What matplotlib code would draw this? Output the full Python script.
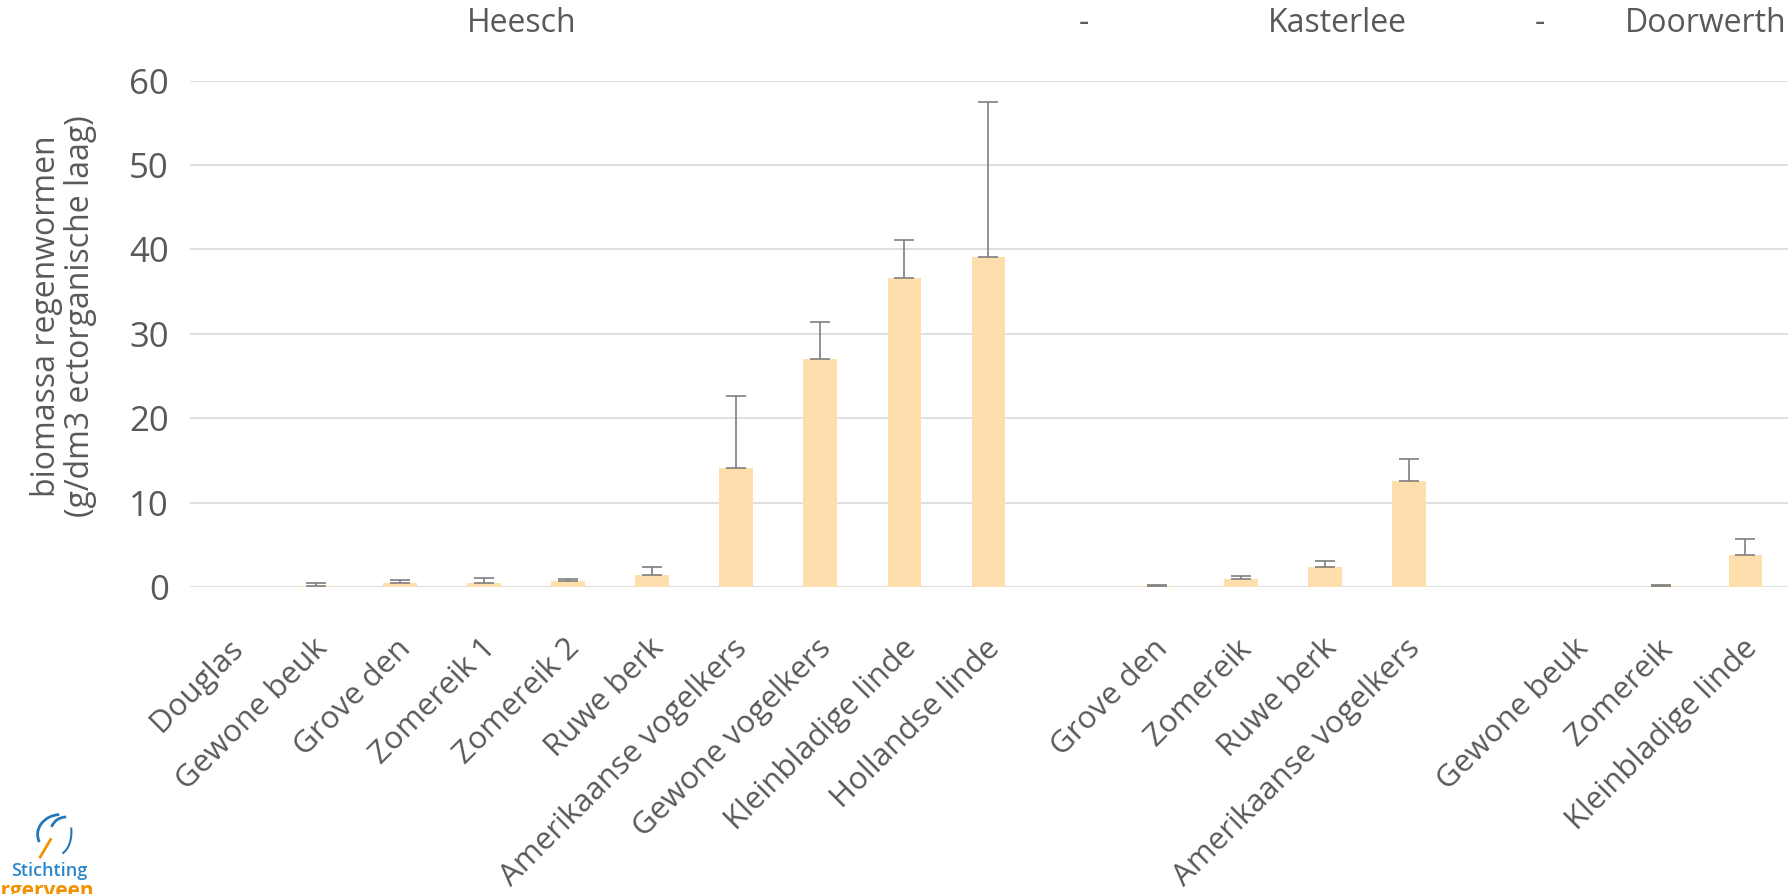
import numpy as np
import matplotlib.pyplot as plt
from matplotlib.transforms import ScaledTranslation
from matplotlib.patches import Arc

plt.rcParams['font.family'] = ['Open Sans', 'DejaVu Sans']

# categorieen (lege plek = scheiding tussen locaties)
labels = ['Douglas', 'Gewone beuk', 'Grove den', 'Zomereik 1', 'Zomereik 2',
          'Ruwe berk', 'Amerikaanse vogelkers', 'Gewone vogelkers',
          'Kleinbladige linde', 'Hollandse linde', '',
          'Grove den', 'Zomereik', 'Ruwe berk', 'Amerikaanse vogelkers', '',
          'Gewone beuk', 'Zomereik', 'Kleinbladige linde']
# gemiddelde biomassa (g/dm3 ectorganische laag)
values = [0.0, 0.16, 0.52, 0.48, 0.67, 1.45, 14.05, 27.05, 36.6, 39.1, np.nan,
          0.15, 0.95, 2.38, 12.6, np.nan,
          0.0, 0.15, 3.78]
# bovenkant foutbalk
err_top = [np.nan, 0.48, 0.79, 1.07, 0.95, 2.33, 22.65, 31.4, 41.1, 57.5, np.nan,
           0.2, 1.25, 3.13, 15.2, np.nan,
           np.nan, 0.2, 5.65]
headers = ['Heesch', '-', 'Kasterlee', '-', 'Doorwerth']
header_x = [0.292, 0.606, 0.748, 0.861, 0.954]

TXT = '#595959'
FS = 23

fig = plt.figure(figsize=(17.88, 8.94), dpi=100)
ax = fig.add_axes([189.5 / 1788, 1 - 587 / 894, 1598 / 1788, 506.3 / 894])

x = np.arange(len(labels))
v = np.array(values)
e = np.array(err_top) - v

ax.bar(x, np.nan_to_num(v), width=0.4, color='#FFDEAD', zorder=2)
m = ~np.isnan(e)
ax.errorbar(x[m], v[m], yerr=[np.zeros(m.sum()), e[m]], fmt='none',
            ecolor='#7f7f7f', elinewidth=1.2, capsize=7, capthick=1.2, zorder=3)

ax.set_xlim(-0.5, len(labels) - 0.5)
ax.set_ylim(0, 60)
ax.set_yticks(range(0, 61, 10))
ax.yaxis.grid(True, color='#D9D9D9', linewidth=1.2, zorder=0)
for s in ax.spines.values():
    s.set_visible(False)

ax.tick_params(axis='y', length=0, pad=15, labelsize=FS + 2, labelcolor=TXT)
ax.tick_params(axis='x', length=0, pad=41, labelsize=FS - 0.5, labelcolor=TXT)
ax.set_xticks(x)
ax.set_xticklabels(labels, rotation=45, ha='right', va='center',
                   rotation_mode='anchor')
off = ScaledTranslation(0.07, 0, fig.dpi_scale_trans)
for t in ax.get_xticklabels():
    t.set_transform(t.get_transform() + off)

ax.set_ylabel('biomassa regenwormen\n(g/dm3 ectorganische laag)',
              fontsize=FS, color=TXT, linespacing=1.05)
ax.yaxis.set_label_coords(-0.058, 0.535)

for h, hx in zip(headers, header_x):
    fig.text(hx, 0.974, h, ha='center', va='center', fontsize=FS, color=TXT)

# logo linksonder
fig.text(49 / 1788, 1 - 871 / 894, 'Stichting', ha='center', va='center',
         fontsize=13, color='#2A86C8', fontweight='semibold')
fig.text(94 / 1788, 1 - 892 / 894, 'Bargerveen', ha='right', va='center',
         fontsize=15, color='#F39200', fontweight='bold')
lg = fig.add_axes([22 / 1788, 1 - 862 / 894, 52 / 1788, 50 / 894])
lg.set_xlim(0, 1); lg.set_ylim(0, 1); lg.axis('off')
lg.add_patch(Arc((0.75, 0.55), 0.9, 0.8, theta1=95, theta2=200, color='#2677B8', lw=2))
lg.add_patch(Arc((0.85, 0.6), 0.6, 0.6, theta1=90, theta2=160, color='#2677B8', lw=2))
lg.add_patch(Arc((0.7, 0.6), 0.5, 0.9, theta1=280, theta2=20, color='#2677B8', lw=1.5))
lg.plot([0.35, 0.55], [0.1, 0.45], color='#F39200', lw=2)

fig.savefig('out.png', dpi=100)
